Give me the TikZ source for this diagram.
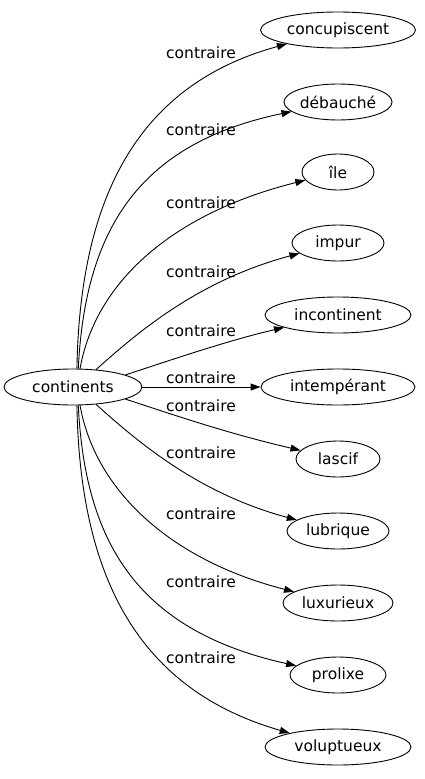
\documentclass[tikz,border=0pt]{standalone}
\usepackage{fontspec}
\setmainfont{DejaVu Sans}
\usetikzlibrary{shapes.geometric,arrows.meta}
\begin{document}
\begin{tikzpicture}[x=1pt,y=-1pt,
  every node/.style={font=\fontsize{15.5}{18}\selectfont},
  nd/.style={ellipse,draw,line width=0.9pt,inner sep=0pt,minimum height=36pt},
  lab/.style={inner sep=0pt},
  conn/.style={draw,line width=0.9pt,-{Triangle[length=10pt,width=7pt]}}]
\useasboundingbox (0,0) rectangle (424,779);
\node[nd,minimum width=138pt] (c) at (73,387) {continents};
\node[nd,minimum width=155pt] (t1) at (338,30) {concupiscent};
\node[nd,minimum width=100pt] (t2) at (338,102) {débauché};
\node[nd,minimum width=72pt] (t3) at (338,172) {île};
\node[nd,minimum width=92pt] (t4) at (338,243) {impur};
\node[nd,minimum width=146pt] (t5) at (338,315) {incontinent};
\node[nd,minimum width=154pt] (t6) at (338,387) {intempérant};
\node[nd,minimum width=84pt] (t7) at (338,459) {lascif};
\node[nd,minimum width=102pt] (t8) at (338,531) {lubrique};
\node[nd,minimum width=110pt] (t9) at (338,603) {luxurieux};
\node[nd,minimum width=96pt] (t10) at (338,675) {prolixe};
\node[nd,minimum width=146pt] (t11) at (338,747) {voluptueux};
\draw[conn] (c.78) .. controls (80,194) and (140,84) .. (t1);
\draw[conn] (c.74) .. controls (85,234) and (135,144) .. (t2);
\draw[conn] (c.69) .. controls (95,284) and (170,214) .. (t3);
\draw[conn] (c.37) .. controls (140,330) and (200,280) .. (t4);
\draw[conn] (c.13) .. controls (180,357) and (230,340) .. (t5);
\draw[conn] (c) -- (t6);
\draw[conn] (c.-13) .. controls (180,417) and (230,434) .. (t7);
\draw[conn] (c.-37) .. controls (140,444) and (200,494) .. (t8);
\draw[conn] (c.-69) .. controls (95,490) and (170,560) .. (t9);
\draw[conn] (c.-74) .. controls (85,540) and (135,630) .. (t10);
\draw[conn] (c.-78) .. controls (80,580) and (140,690) .. (t11);
\node[lab] (l1) at (201,53) {contraire};
\node[lab] (l2) at (201,130) {contraire};
\node[lab] (l3) at (201,203) {contraire};
\node[lab] (l4) at (201,272) {contraire};
\node[lab] (l5) at (201,331) {contraire};
\node[lab] (l6) at (201,378) {contraire};
\node[lab] (l7) at (201,406) {contraire};
\node[lab] (l8) at (201,453) {contraire};
\node[lab] (l9) at (201,514) {contraire};
\node[lab] (l10) at (201,582) {contraire};
\node[lab] (l11) at (201,658) {contraire};
\end{tikzpicture}
\end{document}
